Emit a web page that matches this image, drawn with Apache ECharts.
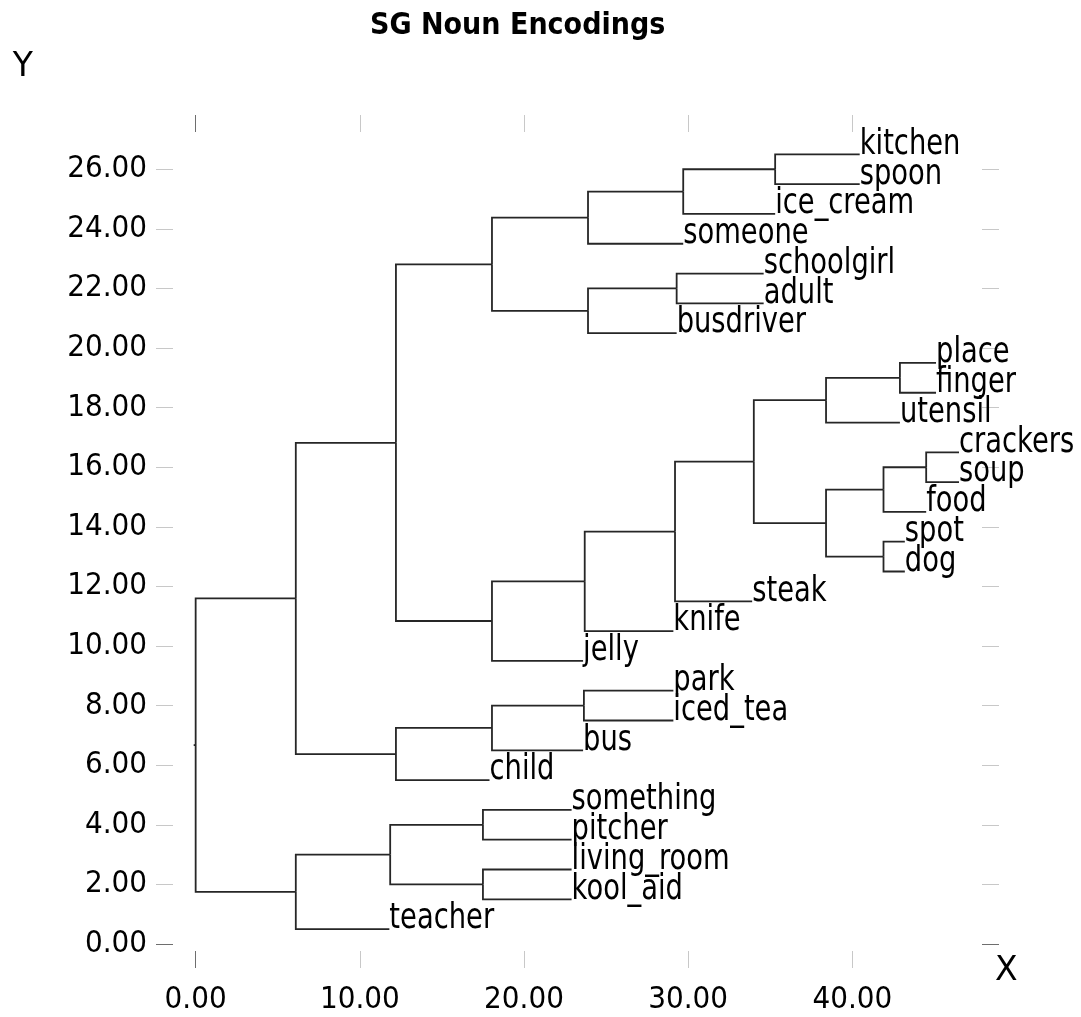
<!DOCTYPE html>
<html>
<head>
<meta charset="utf-8">
<style>
html, body { margin: 0; padding: 0; background: #fff; }
#chart { width: 1081px; height: 1017px; }
</style>
</head>
<body>
<div id="chart"></div>
<script src="https://cdn.jsdelivr.net/npm/echarts@6/dist/echarts.min.js"></script>
<script>
// leaves, top to bottom: name, row (y) and where the branch ends (x)
const leafNames = ['kitchen', 'spoon', 'ice_cream', 'someone', 'schoolgirl', 'adult', 'busdriver',
  'place', 'finger', 'utensil', 'crackers', 'soup', 'food', 'spot', 'dog', 'steak', 'knife', 'jelly',
  'park', 'iced_tea', 'bus', 'child', 'something', 'pitcher', 'living_room', 'kool_aid', 'teacher']
const leafY = [26.5, 25.5, 24.5, 23.5, 22.5, 21.5, 20.5, 19.5, 18.5, 17.5, 16.5, 15.5, 14.5, 13.5,
  12.5, 11.5, 10.5, 9.5, 8.5, 7.5, 6.5, 5.5, 4.5, 3.5, 2.5, 1.5, 0.5]
const leafX = [40.45, 40.45, 35.3, 29.7, 34.6, 34.6, 29.3, 45.1, 45.1, 42.9, 46.5, 46.5, 44.5, 43.2,
  43.2, 33.9, 29.1, 23.6, 29.1, 29.1, 23.6, 17.9, 22.9, 22.9, 22.9, 22.9, 11.8]

// merge nodes: x, y and the two things merged
const nodeNames = ['n1', 'n2', 'n3', 'n4', 'n5', 'n6', 'n7', 'n8', 'n9', 'n10', 'n11', 'n12', 'n13',
  'n14', 'n15', 'n16', 'n17', 'n18', 'n19', 'n20', 'n21', 'n22', 'n23', 'n24', 'n25', 'root']
const nodeX = [35.3, 29.7, 23.9, 29.3, 23.9, 18.05, 42.9, 38.4, 44.5, 41.9, 41.9, 38.4, 34.0,
  29.2, 23.7, 18.05, 12.2, 23.65, 18.05, 12.2, 6.1, 17.5, 17.5, 11.85, 6.1, 0]
const nodeY = [26.0, 25.25, 24.375, 22.0, 21.25, 22.81, 19.0, 18.25, 16.0, 15.25, 13.0, 14.125, 16.19,
  13.84, 12.17, 10.84, 16.82, 8.0, 7.25, 6.375, 11.6, 4.0, 2.0, 3.0, 1.75, 6.675]
const nodeKids = [
  ['kitchen', 'spoon'], ['n1', 'ice_cream'], ['n2', 'someone'], ['schoolgirl', 'adult'], ['n4', 'busdriver'],
  ['n3', 'n5'], ['place', 'finger'], ['n7', 'utensil'], ['crackers', 'soup'], ['n9', 'food'],
  ['spot', 'dog'], ['n10', 'n11'], ['n8', 'n12'], ['n13', 'steak'], ['n14', 'knife'], ['n15', 'jelly'],
  ['n6', 'n16'], ['park', 'iced_tea'], ['n18', 'bus'], ['n19', 'child'], ['n17', 'n20'],
  ['something', 'pitcher'], ['living_room', 'kool_aid'], ['n22', 'n23'], ['n24', 'teacher'], ['n21', 'n25']
]
const rootStubX = -0.12

const xTicks = [0, 10, 20, 30, 40]
const yTicks = [0, 2, 4, 6, 8, 10, 12, 14, 16, 18, 20, 22, 24, 26]

const pos = {}
leafNames.forEach((n, i) => { pos[n] = [leafX[i], leafY[i]] })
nodeNames.forEach((n, i) => { pos[n] = [nodeX[i], nodeY[i]] })

const branches = []
nodeNames.forEach((n, i) => {
  nodeKids[i].forEach(k => {
    branches.push({ coords: [[nodeX[i], nodeY[i]], [nodeX[i], pos[k][1]], pos[k]] })
  })
})
const r = nodeNames.length - 1
branches.push({ coords: [[rootStubX, nodeY[r]], [nodeX[r], nodeY[r]]] })

const labelFont = "'DejaVu Sans Condensed', 'DejaVu Sans'"
const lightTick = '#c8c8c8'
const darkTick = '#6e6e6e'

function axis (dim, position, ticks, color, withLabels) {
  const a = {
    type: 'value',
    position,
    min: dim === 'x' ? -1.38 : -0.235,
    max: dim === 'x' ? 47.9 : 27.25,
    axisLine: { show: false, onZero: false },
    axisTick: { show: true, inside: false, length: 17, customValues: ticks, lineStyle: { color, width: 1 } },
    axisLabel: { show: false },
    splitLine: { show: false }
  }
  if (withLabels) {
    a.axisLabel = {
      show: true,
      customValues: dim === 'x' ? xTicks : yTicks,
      formatter: v => v.toFixed(2),
      color: '#000',
      fontFamily: labelFont,
      fontSize: 31,
      margin: dim === 'x' ? 33 : 26
    }
  }
  return a
}

const xAxes = [
  axis('x', 'bottom', xTicks.slice(1), lightTick, true),
  axis('x', 'bottom', [0], darkTick, false),
  axis('x', 'top', xTicks.slice(1), lightTick, false),
  axis('x', 'top', [0], darkTick, false)
]
xAxes[0].name = 'X'
xAxes[0].nameLocation = 'end'
xAxes[0].nameGap = 13
xAxes[0].nameTextStyle = { fontFamily: 'DejaVu Sans', fontSize: 33, color: '#000', align: 'left', verticalAlign: 'top', padding: [4, 0, 0, 0] }

const yAxes = [
  axis('y', 'left', yTicks.slice(1), lightTick, true),
  axis('y', 'left', [0], darkTick, false),
  axis('y', 'right', yTicks.slice(1), lightTick, false),
  axis('y', 'right', [0], darkTick, false)
]
yAxes[0].name = 'Y'
yAxes[0].nameLocation = 'end'
yAxes[0].nameGap = 48
yAxes[0].nameTextStyle = { fontFamily: 'DejaVu Sans', fontSize: 33, color: '#000', align: 'right', padding: [0, 140, 0, 0] }

const chart = echarts.init(document.getElementById('chart'))
chart.setOption({
  backgroundColor: '#fff',
  animation: false,
  title: {
    text: 'SG Noun Encodings',
    left: 370,
    top: 11,
    padding: 0,
    textStyle: { fontFamily: labelFont, fontWeight: 'bold', fontSize: 30, color: '#000' }
  },
  grid: { left: 173, right: 99, top: 132, bottom: 66, containLabel: false },
  xAxis: xAxes,
  yAxis: yAxes,
  series: [
    {
      type: 'lines',
      coordinateSystem: 'cartesian2d',
      polyline: true,
      silent: true,
      lineStyle: { color: '#262626', width: 1.8, opacity: 1, curveness: 0 },
      data: branches
    },
    {
      type: 'custom',
      coordinateSystem: 'cartesian2d',
      silent: true,
      clip: false,
      data: leafNames.map((n, i) => [leafX[i], leafY[i]]),
      renderItem: (params, api) => {
        const p = api.coord([api.value(0), api.value(1)])
        return {
          type: 'text',
          x: p[0],
          y: p[1] - 10,
          scaleX: 0.76,
          style: {
            text: leafNames[params.dataIndex],
            fill: '#000',
            font: "36px 'DejaVu Sans'",
            align: 'left',
            verticalAlign: 'middle'
          }
        }
      }
    }
  ]
})
</script>
</body>
</html>
